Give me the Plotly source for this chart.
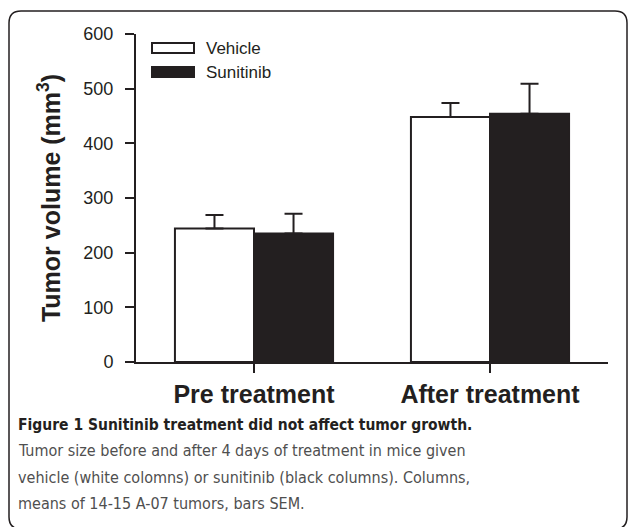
import plotly.graph_objects as go

categories = ["Pre treatment", "After treatment"]
series_names = ["Vehicle", "Sunitinib"]
vehicle_mean = [244, 448]
vehicle_sem = [25, 26]
sunitinib_mean = [235, 454]
sunitinib_sem = [36, 55]
y_ticks = [0, 100, 200, 300, 400, 500, 600]
caption_title = "Figure 1 Sunitinib treatment did not affect tumor growth."
caption_lines = [
    "Tumor size before and after 4 days of treatment in mice given",
    "vehicle (white colomns) or sunitinib (black columns). Columns,",
    "means of 14-15 A-07 tumors, bars SEM.",
]

INK = "#231f20"
W, H = 629, 527
ML, MR, MT, MB = 136, 21, 34, 165
PW, PH = W - ML - MR, H - MT - MB


def px(x):
    return (x - ML) / PW


def py(y):
    return 1 - (y - MT) / PH


fig = go.Figure()
fig.add_trace(go.Bar(
    name=series_names[0], x=categories, y=vehicle_mean,
    marker=dict(color="white", line=dict(color=INK, width=2)),
    error_y=dict(type="data", array=vehicle_sem, arrayminus=[0, 0], symmetric=False,
                 color=INK, thickness=2, width=9),
    showlegend=False,
))
fig.add_trace(go.Bar(
    name=series_names[1], x=categories, y=sunitinib_mean,
    marker=dict(color=INK, line=dict(color=INK, width=2)),
    error_y=dict(type="data", array=sunitinib_sem, arrayminus=[0, 0], symmetric=False,
                 color=INK, thickness=2, width=9),
    showlegend=False,
))

shapes = []
swatch_fill = ["white", INK]
for i, name in enumerate(series_names):
    y0 = 43 + i * 24
    shapes.append(dict(type="rect", xref="paper", yref="paper",
                       x0=px(152), x1=px(194), y0=py(y0), y1=py(y0 + 10),
                       fillcolor=swatch_fill[i], line=dict(color=INK, width=2)))

# rounded frame
L, T, R, B, r = 9, 11, 627, 529, 12
path = (
    f"M {px(L)},{py(T + r)} Q {px(L)},{py(T)} {px(L + r)},{py(T)} "
    f"L {px(R - r)},{py(T)} Q {px(R)},{py(T)} {px(R)},{py(T + r)} "
    f"L {px(R)},{py(B - r)} Q {px(R)},{py(B)} {px(R - r)},{py(B)} "
    f"L {px(L + r)},{py(B)} Q {px(L)},{py(B)} {px(L)},{py(B - r)} Z"
)
shapes.append(dict(type="path", xref="paper", yref="paper", path=path,
                   line=dict(color=INK, width=1.5)))

annotations = []
for i, name in enumerate(series_names):
    annotations.append(dict(xref="paper", yref="paper", x=px(204), y=py(48 + i * 24),
                            text=name, showarrow=False, xanchor="left", yanchor="middle",
                            font=dict(family="Arial, Liberation Sans, sans-serif", size=17, color=INK)))

cap_font = "DejaVu Sans Condensed, DejaVu Sans, sans-serif"
annotations.append(dict(xref="paper", yref="paper", x=px(16), y=py(425),
                        text="<b>" + caption_title + "</b>", showarrow=False,
                        xanchor="left", yanchor="middle",
                        font=dict(family=cap_font, size=15.5, color=INK)))
for i, line in enumerate(caption_lines):
    annotations.append(dict(xref="paper", yref="paper", x=px(16), y=py(451 + i * 26),
                            text=line, showarrow=False, xanchor="left", yanchor="middle",
                            font=dict(family=cap_font, size=16, color="#4f4f4f")))

fig.update_layout(
    width=W, height=H,
    margin=dict(l=ML, r=MR, t=MT, b=MB),
    paper_bgcolor="white", plot_bgcolor="white",
    barmode="group", bargap=0.33, bargroupgap=0,
    shapes=shapes, annotations=annotations,
    font=dict(family="Arial, Liberation Sans, sans-serif", color=INK),
    hovermode=False,
    xaxis=dict(
        range=[-0.5, 1.5], showline=True, linecolor=INK, linewidth=2,
        ticks="outside", ticklen=9, tickwidth=1.5, tickcolor=INK,
        tickfont=dict(size=25, weight="bold", color=INK), showgrid=False,
    ),
    yaxis=dict(
        range=[0, 600], tickvals=y_ticks, showline=True, linecolor=INK, linewidth=2,
        ticks="outside", ticklen=9, tickwidth=1.5, tickcolor=INK,
        tickfont=dict(size=18, color=INK), showgrid=False, zeroline=False,
        ticklabelstandoff=8,
        title=dict(text="Tumor volume (mm<sup>3</sup>)", standoff=16,
                   font=dict(size=25, weight="bold", color=INK)),
    ),
)

fig.write_html("out.html", config={"displayModeBar": False},
               post_script="document.body.style.margin='0';")
